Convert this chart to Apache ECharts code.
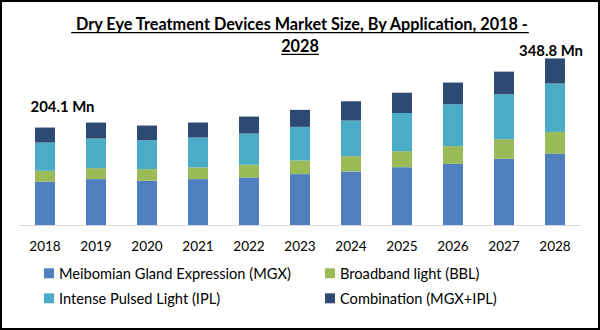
<!DOCTYPE html>
<html><head><meta charset="utf-8">
<script src="https://cdn.jsdelivr.net/npm/echarts@6/dist/echarts.min.js"></script>
<style>html,body{margin:0;padding:0;background:#fff}#c{width:600px;height:330px}</style>
</head><body><div id="c"></div>
<script>
// ---- data ----
const years = ['2018','2019','2020','2021','2022','2023','2024','2025','2026','2027','2028'];
const seriesNames = ['Meibomian Gland Expression (MGX)','Broadband light (BBL)','Intense Pulsed Light (IPL)','Combination (MGX+IPL)'];
const mgx  = [90.5, 96.1, 92.6, 96.1, 99.7, 106.6, 112.2, 121.2, 128.1, 138.6, 149.5];
const bbl  = [23.0, 23.0, 24.4, 24.4, 26.5, 28.6, 32.0, 33.4, 37.0, 41.2, 45.4];
const ipl  = [59.2, 62.0, 60.6, 62.7, 65.4, 70.4, 74.6, 80.0, 87.8, 94.0, 101.5];
const comb = [31.4, 33.4, 30.7, 31.4, 35.5, 35.5, 40.3, 42.4, 45.4, 47.4, 52.4];
const totalLabels = ['204.1 Mn','','','','','','','','','','348.8 Mn'];
const titleLine1 = ' Dry Eye Treatment Devices Market Size, By Application, 2018 -';
const titleLine2 = '2028';

// ---- styles ----
const FONT = 'Lato';
const colors = ['#4f7fbf','#9bbb59','#4aacc6','#2c4a72'];
const cv = document.createElement('canvas').getContext('2d');
function measure(text, weight, size){ cv.font = weight + ' ' + size + 'px ' + FONT; return cv.measureText(text).width; }
function fit(text, weight, target){ return 100 * target / measure(text, weight, 100); }
const titleSize = fit(titleLine1.trim(), 'bold', 454);
const legendSize = fit(seriesNames[0], 'normal', 232);
const yearSize = fit('2018', 'normal', 31.5);
const annSize = fit('348.8 Mn', 'bold', 64);

const labelOffsets = {0: [17.5, -13.3], 10: [-4, 0]};

const chart = echarts.init(document.getElementById('c'), null, {renderer: 'svg'});
const w1 = measure(titleLine1, 'bold', titleSize);
const w2 = measure(titleLine2, 'bold', titleSize);
const vals = [mgx, bbl, ipl, comb];

chart.setOption({
  animation: false,
  textStyle: {fontFamily: FONT},
  title: {
    text: titleLine1 + '\n' + titleLine2,
    left: 300, top: 13, textAlign: 'center', padding: 0,
    textStyle: {fontFamily: FONT, fontWeight: 'bold', fontSize: titleSize, lineHeight: 21.6, color: '#000'}
  },
  graphic: [
    {type: 'rect', shape: {x: 1, y: 1, width: 598, height: 328}, style: {fill: 'none', stroke: '#000', lineWidth: 2}, silent: true},
    {type: 'line', shape: {x1: 300 - w1 / 2, y1: 32.7, x2: 300 + w1 / 2, y2: 32.7}, style: {stroke: '#000', lineWidth: 1.2}, silent: true},
    {type: 'line', shape: {x1: 300 - w2 / 2, y1: 54.3, x2: 300 + w2 / 2, y2: 54.3}, style: {stroke: '#000', lineWidth: 1.2}, silent: true}
  ],
  legend: [
    {data: [seriesNames[0], seriesNames[2]], orient: 'vertical', left: 44, top: 265.3, padding: 0,
     itemWidth: 10, itemHeight: 10, itemGap: 9, icon: 'rect',
     textStyle: {fontFamily: FONT, fontSize: legendSize, lineHeight: 16, color: '#000'}},
    {data: [seriesNames[1], seriesNames[3]], orient: 'vertical', left: 325, top: 265.3, padding: 0,
     itemWidth: 10, itemHeight: 10, itemGap: 9, icon: 'rect',
     textStyle: {fontFamily: FONT, fontSize: legendSize, lineHeight: 16, color: '#000'}}
  ],
  grid: {left: 19.5, right: 19.5, top: 34, height: 191, containLabel: false},
  xAxis: {
    type: 'category', data: years,
    axisLine: {lineStyle: {color: '#d9d9d9', width: 1}},
    axisTick: {show: false},
    axisLabel: {fontFamily: FONT, fontSize: yearSize, color: '#000', margin: 14}
  },
  yAxis: {type: 'value', min: 0, max: 400, show: false, splitLine: {show: false}},
  series: vals.map((arr, si) => ({
    name: seriesNames[si], type: 'bar', stack: 'total', barWidth: 20,
    itemStyle: {color: colors[si]},
    data: arr.map((v, i) => (si === 3 && totalLabels[i]) ? {
      value: v,
      label: {show: true, position: 'top', distance: 0, offset: labelOffsets[i],
        formatter: () => totalLabels[i],
        fontFamily: FONT, fontWeight: 'bold', fontSize: annSize, lineHeight: 16, color: '#000'}
    } : v)
  }))
});
</script></body></html>
